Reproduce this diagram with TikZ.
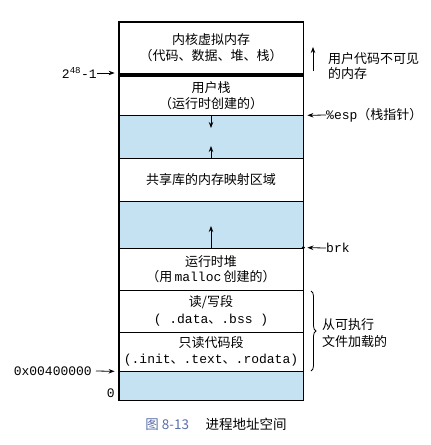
\documentclass[tikz,border=0pt]{standalone}
\usepackage{fontspec}
\setmainfont{Noto Sans CJK SC}
\setmonofont{Liberation Mono}
\usepackage{xcolor}
\definecolor{memblue}{RGB}{196,226,242}
\definecolor{capblue}{RGB}{90,110,170}
\usetikzlibrary{arrows.meta, positioning, decorations.pathreplacing}

\begin{document}
\begin{tikzpicture}[x=1pt, y=-1pt,
  seg/.style={rectangle, draw=black, line width=0.8pt, fill=#1, minimum width=184pt,
              inner sep=0pt, align=center, font=\fontsize{13}{15.5}\selectfont},
  seg/.default=white,
  lbl/.style={inner sep=0pt, align=left, font=\fontsize{13}{14.5}\selectfont},
  growarrow/.style={-{Stealth[length=6pt, width=4.5pt]}, line width=0.9pt},
  ptr/.style={-{Stealth[length=6pt, width=4.5pt]}, line width=0.8pt, shorten >=4pt}
]
\useasboundingbox (0,0) rectangle (431,445);

% Segments, from high addresses down to 0
\node[seg, minimum height=51pt] (kernel) at (211,47.5) {内核虚拟内存\\（代码、数据、堆、栈）};
\node[seg, minimum height=39pt] (ustack) at (211,95.5) {用户栈\\（运行时创建的）};
\node[seg=memblue, minimum height=43pt] (gapa) at (211,136.5) {};
\node[seg, minimum height=43pt] (shlib) at (211,179.5) {共享库的内存映射区域};
\node[seg=memblue, minimum height=47pt] (gapb) at (211,224.5) {};
\node[seg, minimum height=42pt] (heap) at (211,269) {运行时堆\\（用\,\texttt{malloc}\,创建的）};
\node[seg, minimum height=42pt] (rwseg) at (211,311) {读/写段\\[1pt]\texttt{( .data}、\texttt{.bss )}};
\node[seg, minimum height=39pt] (roseg) at (211,351.5) {只读代码段\\[1pt]\texttt{(.init}、\texttt{.text}、\texttt{.rodata)}};
\node[seg=memblue, minimum height=29pt] (low) at (211,385.5) {};

% Frame and the line under the kernel
\draw[line width=1.3pt] (kernel.north west) rectangle (low.south east);
\draw[line width=3pt] ([yshift=-1.5pt]kernel.south west) -- ([yshift=-1.5pt]kernel.south east);

% Stack grows down, heap and libraries grow up
\coordinate (stacktip) at (211,128);
\coordinate (libtip) at (211,146);
\coordinate (heaptip) at (211,226);
\draw[growarrow] (ustack.south) -- (stacktip);
\draw[growarrow] (shlib.north) -- (libtip);
\draw[growarrow] (heap.north) -- (heaptip);

% Left side: addresses
\node[lbl, anchor=east] (top) at (97,73) {\texttt{2\textsuperscript{48}-1}};
\node[lbl, anchor=east] (start) at (92,371) {\texttt{0x00400000}};
\node[lbl, anchor=east] (zero) at (115,393) {\texttt{0}};
\draw[ptr] (top.east) -- (kernel.south west |- top.east);
\draw[ptr] ([xshift=4pt]start.east) -- (roseg.south west);

% Right side: notes
\coordinate (hidlo) at (313,71);
\coordinate (hidhi) at (313,47);
\draw[growarrow, line width=0.8pt] (hidlo) -- (hidhi);
\node[lbl, anchor=west] (hidden) at (328,66) {用户代码不可见\\的内存};
\node[lbl, anchor=west] (esp) at (326,115) {\texttt{\%esp}（栈指针）};
\draw[ptr] (esp.west) -- (ustack.south east);
\node[lbl, anchor=west] (brk) at (326,248) {\texttt{brk}};
\fill (heap.north east) circle (1.7pt);
\draw[ptr] (brk.west) -- (heap.north east);
\coordinate (bracetop) at (311,291);
\coordinate (bracebot) at (311,371);
\draw[line width=0.8pt, decorate, decoration={brace, amplitude=5pt}] (bracetop) -- (bracebot);
\node[lbl, anchor=west, font=\fontsize{13}{16.5}\selectfont] (loaded) at (322,333) {从可执行\\文件加载的};

% Caption
\node[inner sep=0pt, font=\fontsize{13.5}{15}\selectfont] (caption) at (216,424)
  {{\color{capblue}图\ 8-13}\quad\ 进程地址空间};
\end{tikzpicture}
\end{document}
